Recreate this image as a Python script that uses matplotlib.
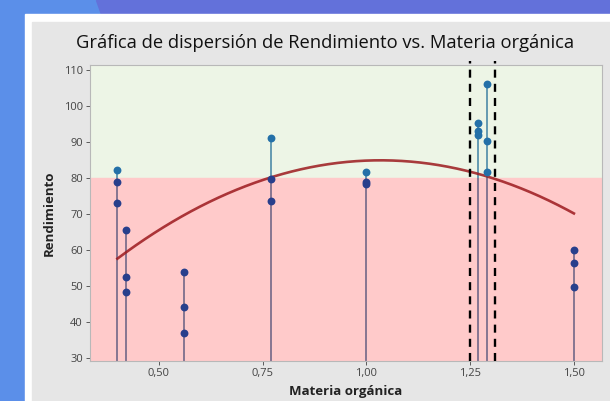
import numpy as np
import matplotlib
matplotlib.use('Agg')
import matplotlib.pyplot as plt
from matplotlib.patches import Rectangle, Polygon

plt.rcParams['font.family'] = ['Open Sans', 'DejaVu Sans']

# data
materia = [0.40, 0.40, 0.40, 0.42, 0.42, 0.42, 0.56, 0.56, 0.56, 0.77, 0.77, 0.77,
           1.00, 1.00, 1.00, 1.27, 1.27, 1.27, 1.29, 1.29, 1.29, 1.50, 1.50, 1.50]
rendimiento = [82.4, 78.9, 73.0, 65.6, 52.4, 48.2, 53.9, 44.2, 36.8, 91.2, 79.8, 73.6,
               81.8, 79.0, 78.3, 95.4, 93.1, 91.9, 106.3, 90.4, 81.6, 60.1, 56.5, 49.8]
# fitted curve
curva_x = [0.40, 0.50, 0.77, 1.04, 1.29, 1.50]
curva_y = [57.8, 65.4, 80.0, 84.9, 81.0, 69.9]
umbral = 80
limites = [1.25, 1.31]
xticks = [0.50, 0.75, 1.00, 1.25, 1.50]
xticklabels = ['0,50', '0,75', '1,00', '1,25', '1,50']
yticks = [30, 40, 50, 60, 70, 80, 90, 100, 110]

x = np.array(materia)
y = np.array(rendimiento)
ymin, ymax = 29.1, 111.5
xmin, xmax = 0.334, 1.567

fig = plt.figure(figsize=(6.1, 4.01), dpi=100)
fig.patch.set_facecolor('#5b8fe9')
# backdrop: top band, white card, gray panel
fig.patches.append(Polygon([[0.158, 1], [1, 1], [1, 0.965], [0.165, 0.965]],
                           closed=True, transform=fig.transFigure, color='#6371da', zorder=-3))
fig.patches.append(Rectangle((25/610, 0), 1, 1 - 14/401, transform=fig.transFigure,
                             color='white', zorder=-2))
fig.patches.append(Rectangle((32/610, 0), 1, 1 - 22/401, transform=fig.transFigure,
                             color='#e6e6e6', zorder=-1))

ax = fig.add_axes([90/610, 40/401, (601.7-90)/610, (361-65)/401])
ax.set_xlim(xmin, xmax)
ax.set_ylim(ymin, ymax)
ax.axhspan(umbral, ymax, color='#edf5e6', zorder=0)
ax.axhspan(ymin, umbral, color='#ffcaca', zorder=0)

# stems
for xv in np.unique(x):
    top = y[x == xv].max()
    ax.vlines(xv, ymin, min(top, umbral), color='#7d6f8c', lw=1.3, zorder=2)
    if top > umbral:
        ax.vlines(xv, umbral, top, color='#5a93ad', lw=1.3, zorder=2)

low = y < umbral
ax.scatter(x[low], y[low], s=32, color='#283f8c', zorder=4, linewidths=0)
ax.scatter(x[~low], y[~low], s=32, color='#2470a8', zorder=4, linewidths=0)

coef = np.polyfit(curva_x, curva_y, 2)
xs = np.linspace(curva_x[0], curva_x[-1], 200)
ax.plot(xs, np.polyval(coef, xs), color='#9c1a1e', lw=1.9, alpha=0.85, zorder=3)

for l in limites:
    ax.plot([l, l], [ymin, ymax + 1], color='black', lw=1.7, ls=(0, (3.4, 2.6)),
            zorder=5, clip_on=False)

ax.set_xticks(xticks)
ax.set_xticklabels(xticklabels)
ax.set_yticks(yticks)
ax.tick_params(labelsize=8, colors='#444444', length=3, width=0.6, pad=2)
for s in ax.spines.values():
    s.set_color('#b8b8b8')

ax.set_xlabel('Materia orgánica', fontsize=9.5, fontweight='bold', color='#222222', labelpad=4)
ax.set_ylabel('Rendimiento', fontsize=9.5, fontweight='bold', color='#222222', labelpad=6)
fig.text(0.533, 1 - 43/401, 'Gráfica de dispersión de Rendimiento vs. Materia orgánica',
         ha='center', va='center', fontsize=13.2, color='#111111')

fig.savefig('out.png', dpi=100)
